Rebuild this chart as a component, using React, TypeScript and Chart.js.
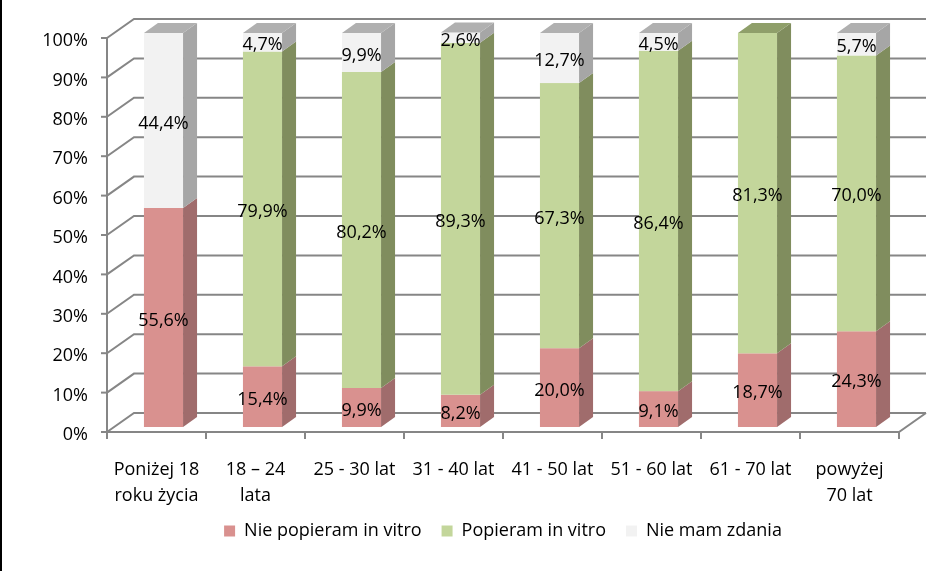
import React, { useEffect, useRef } from 'react';
import { Chart, registerables } from 'chart.js';

Chart.register(...registerables);

const categories: (string | string[])[] = [
  ['Poniżej 18', 'roku życia'],
  ['18 – 24', 'lata'],
  '25 - 30 lat',
  '31 - 40 lat',
  '41 - 50 lat',
  '51 - 60 lat',
  '61 - 70 lat',
  ['powyżej', '70 lat'],
];

const seriesNames = ['Nie popieram in vitro', 'Popieram in vitro', 'Nie mam zdania'];
const niePopieram = [55.6, 15.4, 9.9, 8.2, 20.0, 9.1, 18.7, 24.3];
const popieram = [0, 79.9, 80.2, 89.3, 67.3, 86.4, 81.3, 70.0];
const nieMamZdania = [44.4, 4.7, 9.9, 2.6, 12.7, 4.5, 0, 5.7];
const yTicks = [0, 10, 20, 30, 40, 50, 60, 70, 80, 90, 100];

const FRONT = ['#D9918F', '#C3D69B', '#F2F2F2'];
const SIDE = ['#A06C6C', '#808D5E', '#A6A6A6'];
const TOP = ['#B87A79', '#8F9F6A', '#B0B0B0'];
const GRID = '#868686';
const FONT = '"Open Sans", "Noto Sans", sans-serif';

// 3D geometry (pixels)
const WX = 27, WY = -19; // wall depth
const BX = 7, BY = -5; // bar front offset
const DX = 14, DY = -10; // bar depth
const LEGEND_SHIFT = -8;

const threeD = {
  id: 'threeD',
  afterLayout(chart: any) {
    const lg = chart.legend;
    if (lg) {
      lg.top += LEGEND_SHIFT;
      lg.bottom += LEGEND_SHIFT;
    }
  },
  beforeDraw(chart: any) {
    const { ctx, width, height } = chart;
    ctx.save();
    ctx.fillStyle = '#ffffff';
    ctx.fillRect(0, 0, width, height);
    ctx.fillStyle = '#000000';
    ctx.fillRect(0, 0, 2, height);
    ctx.restore();
  },
  beforeDatasetsDraw(chart: any) {
    const { ctx, chartArea: a, scales } = chart;
    const x = scales.x;
    const y = scales.y;
    ctx.save();
    ctx.strokeStyle = GRID;
    ctx.lineWidth = 2;
    ctx.lineCap = 'butt';
    // walls and gridlines
    yTicks.forEach((v) => {
      const py = y.getPixelForValue(v);
      ctx.beginPath();
      ctx.moveTo(a.left, py);
      ctx.lineTo(a.left + WX, py + WY);
      ctx.lineTo(a.right + WX, py + WY);
      ctx.stroke();
      ctx.beginPath();
      ctx.moveTo(a.left - 6, py);
      ctx.lineTo(a.left, py);
      ctx.stroke();
    });
    // y axis
    ctx.beginPath();
    ctx.moveTo(a.left, y.getPixelForValue(100));
    ctx.lineTo(a.left, y.getPixelForValue(0));
    ctx.stroke();
    // floor front edge + right diagonal
    const p0 = y.getPixelForValue(0);
    ctx.beginPath();
    ctx.moveTo(a.left, p0);
    ctx.lineTo(a.right, p0);
    ctx.lineTo(a.right + WX, p0 + WY);
    ctx.stroke();
    // x ticks at category boundaries
    const step = x.getPixelForValue(1) - x.getPixelForValue(0);
    for (let i = 0; i <= categories.length; i++) {
      const px = x.getPixelForValue(0) - step / 2 + i * step;
      ctx.beginPath();
      ctx.moveTo(px, p0);
      ctx.lineTo(px, p0 + 7);
      ctx.stroke();
    }

    // bars
    const n = categories.length;
    const labels: { x: number; y: number; t: string }[] = [];
    for (let i = 0; i < n; i++) {
      let topIdx = -1;
      for (let d = 0; d < chart.data.datasets.length; d++) {
        if (chart.data.datasets[d].data[i] > 0) topIdx = d;
      }
      for (let d = 0; d < chart.data.datasets.length; d++) {
        const v = chart.data.datasets[d].data[i];
        if (!(v > 0)) continue;
        const el = chart.getDatasetMeta(d).data[i] as any;
        const w = el.width;
        const l = el.x - w / 2 + BX;
        const r = l + w;
        const t = Math.min(el.y, el.base) + BY;
        const b = Math.max(el.y, el.base) + BY;
        // front
        ctx.fillStyle = FRONT[d];
        ctx.fillRect(l, t, w, b - t);
        // side
        ctx.fillStyle = SIDE[d];
        ctx.beginPath();
        ctx.moveTo(r, b);
        ctx.lineTo(r, t);
        ctx.lineTo(r + DX, t + DY);
        ctx.lineTo(r + DX, b + DY);
        ctx.closePath();
        ctx.fill();
        if (d === topIdx) {
          ctx.fillStyle = TOP[d];
          ctx.beginPath();
          ctx.moveTo(l, t);
          ctx.lineTo(r, t);
          ctx.lineTo(r + DX, t + DY);
          ctx.lineTo(l + DX, t + DY);
          ctx.closePath();
          ctx.fill();
        }
        labels.push({ x: (l + r) / 2, y: (t + b) / 2 + 3, t: v.toFixed(1).replace('.', ',') + '%' });
      }
    }
    ctx.fillStyle = '#000000';
    ctx.font = '18px ' + FONT;
    ctx.textAlign = 'center';
    ctx.textBaseline = 'middle';
    labels.forEach((lb) => ctx.fillText(lb.t, lb.x, lb.y));
    ctx.restore();
    return false;
  },
};

export default function App() {
  const ref = useRef<HTMLCanvasElement>(null);
  useEffect(() => {
    document.body.style.margin = '0';
    const canvas = ref.current;
    if (!canvas) return;
    const chart = new Chart(canvas, {
      type: 'bar',
      data: {
        labels: categories as any,
        datasets: [
          { label: seriesNames[0], data: niePopieram, backgroundColor: FRONT[0], borderWidth: 0 },
          { label: seriesNames[1], data: popieram, backgroundColor: FRONT[1], borderWidth: 0 },
          { label: seriesNames[2], data: nieMamZdania, backgroundColor: FRONT[2], borderWidth: 0 },
        ],
      },
      options: {
        responsive: false,
        animation: false,
        devicePixelRatio: 1,
        layout: { padding: { left: 0, right: 47, top: 38, bottom: 13 } },
        datasets: { bar: { categoryPercentage: 1, barPercentage: 0.395 } } as any,
        scales: {
          x: {
            stacked: true,
            offset: true,
            grid: { display: false, drawTicks: false },
            border: { display: false },
            ticks: {
              color: '#000000',
              font: { family: FONT, size: 18, lineHeight: 1.45 },
              padding: 25,
              maxRotation: 0,
              autoSkip: false,
            },
            afterFit: (s: any) => {
              s.height = 78;
            },
          },
          y: {
            stacked: true,
            min: 0,
            max: 100,
            grid: { display: false, drawTicks: false },
            border: { display: false },
            ticks: {
              stepSize: 10,
              color: '#000000',
              font: { family: FONT, size: 18 },
              padding: 19,
              labelOffset: 3,
              callback: (v: any) => v + '%',
            },
            afterFit: (s: any) => {
              s.width = 107;
            },
          },
        },
        plugins: {
          legend: {
            position: 'bottom',
            fullSize: false,
            labels: {
              boxWidth: 11,
              boxHeight: 11,
              padding: 20,
              color: '#000000',
              font: { family: FONT, size: 18 },
            },
          },
          tooltip: { enabled: false },
        },
      },
      plugins: [threeD],
    });
    return () => chart.destroy();
  }, []);
  return (
    <div style={{ width: 946, height: 571, position: 'relative', background: '#fff' }}>
      <canvas ref={ref} width={946} height={571} style={{ display: 'block' }} />
    </div>
  );
}
